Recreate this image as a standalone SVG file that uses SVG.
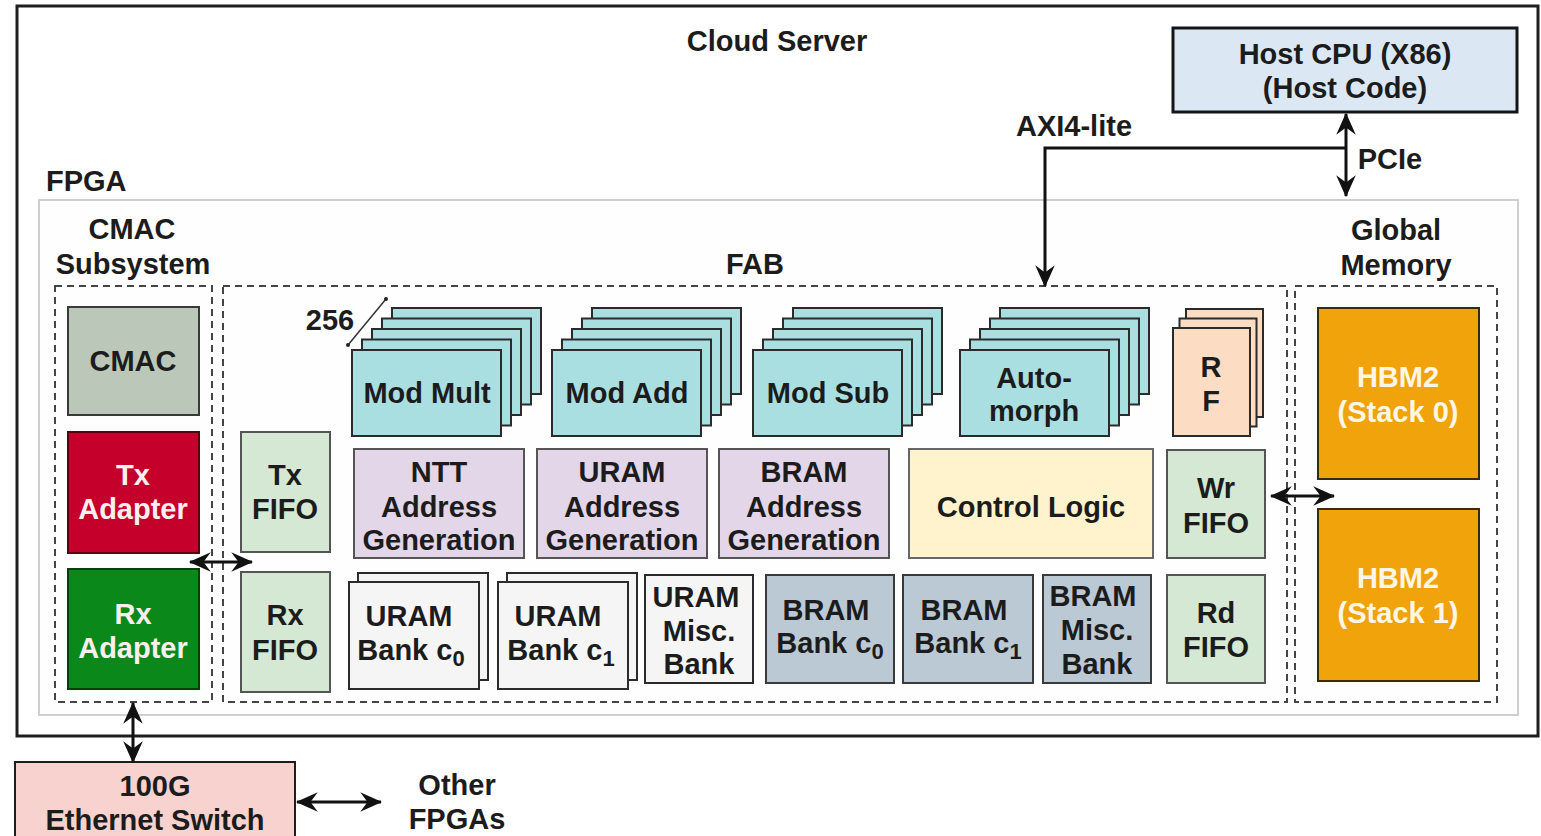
<svg xmlns="http://www.w3.org/2000/svg" width="1541" height="836" viewBox="0 0 1541 836">
  <defs>
    <marker id="arrow" viewBox="0 0 18 18" markerWidth="22" markerHeight="22" refX="17" refY="9" orient="auto-start-reverse" markerUnits="userSpaceOnUse">
      <path d="M0,1 L18,9 L0,17 L6,9 z" fill="#111"/>
    </marker>
  </defs>
  <style>
    text { font-family: "Liberation Sans", Arial, sans-serif; font-weight: bold; font-size: 29px; fill: #1c1c1c; text-anchor: middle; }
    .light { fill: #fbeff0; }
    .hbmtxt { fill: #fff6e6; }
    .start { text-anchor: start; }
    .sub { font-size: 22px; }
    .cloud { fill: #ffffff; stroke: #1e1e1e; stroke-width: 3; }
    .fpga { fill: #fefefe; stroke: #cfcfcf; stroke-width: 2; }
    .dash { fill: none; stroke: #444; stroke-width: 2; stroke-dasharray: 7 5; }
    .host { fill: #dbe8f4; stroke: #151515; stroke-width: 3; }
    .cmac { fill: #bac7b9; stroke: #3a3a3a; stroke-width: 2; }
    .tx { fill: #c5002a; stroke: #5a0010; stroke-width: 2; }
    .rx { fill: #0a891a; stroke: #04400a; stroke-width: 2; }
    .fifo { fill: #d5e8d4; stroke: #555; stroke-width: 2; }
    .mod { fill: #aadfe2; stroke: #2b2b2b; stroke-width: 2; }
    .rf { fill: #fddcc4; stroke: #2b2b2b; stroke-width: 2; }
    .addr { fill: #e2d6e8; stroke: #555; stroke-width: 2; }
    .ctrl { fill: #fff3cd; stroke: #666; stroke-width: 2; }
    .uram { fill: #f5f5f5; stroke: #2b2b2b; stroke-width: 2; }
    .bram { fill: #bbc9d4; stroke: #3a3a3a; stroke-width: 2; }
    .hbm { fill: #f0a30a; stroke: #3a2a05; stroke-width: 2; }
    .eth { fill: #f7d2ce; stroke: #1e1e1e; stroke-width: 2; }
    .wire { fill: none; stroke: #111; stroke-width: 3; }
  </style>

  <!-- outer server and FPGA frames -->
  <g id="cloud-server">
    <rect class="cloud" x="17" y="6" width="1521" height="730"/>
    <text x="777" y="51">Cloud Server</text>
  </g>
  <g id="fpga">
    <rect class="fpga" x="39" y="200" width="1479" height="515"/>
    <text class="start" x="46" y="191">FPGA</text>
  </g>

  <!-- dashed subsystem regions -->
  <g id="cmac-subsystem">
    <rect class="dash" x="55" y="286" width="157" height="416"/>
    <text x="132" y="239">CMAC</text>
    <text x="133" y="274">Subsystem</text>
  </g>
  <g id="fab">
    <rect class="dash" x="223" y="286" width="1064" height="416"/>
    <text x="755" y="274">FAB</text>
  </g>
  <g id="global-memory">
    <rect class="dash" x="1295" y="286" width="202" height="416"/>
    <text x="1396" y="240">Global</text>
    <text x="1396" y="275">Memory</text>
  </g>

  <g id="host-cpu">
    <rect class="host" x="1173" y="28" width="344" height="84"/>
    <text x="1345" y="64">Host CPU (X86)</text>
    <text x="1345" y="98">(Host Code)</text>
  </g>

  <!-- CMAC column -->
  <g id="cmac">
    <rect class="cmac" x="68" y="307" width="131" height="108"/>
    <text x="133" y="371">CMAC</text>
  </g>
  <g id="tx-adapter">
    <rect class="tx" x="68" y="432" width="131" height="121"/>
    <text class="light" x="133" y="485">Tx</text>
    <text class="light" x="133" y="519">Adapter</text>
  </g>
  <g id="rx-adapter">
    <rect class="rx" x="68" y="569" width="131" height="120"/>
    <text class="light" x="133" y="624">Rx</text>
    <text class="light" x="133" y="658">Adapter</text>
  </g>

  <!-- network FIFOs -->
  <g id="tx-fifo">
    <rect class="fifo" x="241" y="432" width="89" height="120"/>
    <text x="285" y="485">Tx</text>
    <text x="285" y="519">FIFO</text>
  </g>
  <g id="rx-fifo">
    <rect class="fifo" x="241" y="572" width="89" height="120"/>
    <text x="285" y="625">Rx</text>
    <text x="285" y="660">FIFO</text>
  </g>

  <!-- 256 lanes marker -->
  <g id="lanes-256">
    <text x="330" y="330">256</text>
    <line x1="348" y1="345" x2="386" y2="299" stroke="#333" stroke-width="1.5"/>
    <circle cx="348" cy="345" r="2" fill="#222"/>
    <circle cx="386" cy="299" r="2" fill="#222"/>
  </g>

  <!-- stacked functional units -->
  <g id="mod-mult">
    <rect class="mod" x="392" y="308" width="149" height="86"/>
    <rect class="mod" x="382" y="318.5" width="149" height="86"/>
    <rect class="mod" x="372" y="329" width="149" height="86"/>
    <rect class="mod" x="362" y="339.5" width="149" height="86"/>
    <rect class="mod" x="352" y="350" width="149" height="86"/>
    <text x="427" y="403">Mod Mult</text>
  </g>
  <g id="mod-add">
    <rect class="mod" x="592" y="308" width="149" height="86"/>
    <rect class="mod" x="582" y="318.5" width="149" height="86"/>
    <rect class="mod" x="572" y="329" width="149" height="86"/>
    <rect class="mod" x="562" y="339.5" width="149" height="86"/>
    <rect class="mod" x="552" y="350" width="149" height="86"/>
    <text x="627" y="403">Mod Add</text>
  </g>
  <g id="mod-sub">
    <rect class="mod" x="793" y="308" width="149" height="86"/>
    <rect class="mod" x="783" y="318.5" width="149" height="86"/>
    <rect class="mod" x="773" y="329" width="149" height="86"/>
    <rect class="mod" x="763" y="339.5" width="149" height="86"/>
    <rect class="mod" x="753" y="350" width="149" height="86"/>
    <text x="828" y="403">Mod Sub</text>
  </g>
  <g id="automorph">
    <rect class="mod" x="1000" y="308" width="149" height="86"/>
    <rect class="mod" x="990" y="318.5" width="149" height="86"/>
    <rect class="mod" x="980" y="329" width="149" height="86"/>
    <rect class="mod" x="970" y="339.5" width="149" height="86"/>
    <rect class="mod" x="960" y="350" width="149" height="86"/>
    <text x="1034" y="388">Auto-</text>
    <text x="1034" y="421">morph</text>
  </g>
  <g id="rf">
    <rect class="rf" x="1186" y="309" width="77" height="108"/>
    <rect class="rf" x="1179.5" y="318.5" width="77" height="108"/>
    <rect class="rf" x="1173" y="328" width="77" height="108"/>
    <text x="1211" y="377">R</text>
    <text x="1211" y="411">F</text>
  </g>

  <!-- address generation and control -->
  <g id="ntt-addr-gen">
    <rect class="addr" x="354" y="449" width="170" height="109"/>
    <text x="439" y="482">NTT</text>
    <text x="439" y="517">Address</text>
    <text x="439" y="550">Generation</text>
  </g>
  <g id="uram-addr-gen">
    <rect class="addr" x="537" y="449" width="170" height="109"/>
    <text x="622" y="482">URAM</text>
    <text x="622" y="517">Address</text>
    <text x="622" y="550">Generation</text>
  </g>
  <g id="bram-addr-gen">
    <rect class="addr" x="719" y="449" width="170" height="109"/>
    <text x="804" y="482">BRAM</text>
    <text x="804" y="517">Address</text>
    <text x="804" y="550">Generation</text>
  </g>
  <g id="control-logic">
    <rect class="ctrl" x="909" y="449" width="244" height="109"/>
    <text x="1031" y="517">Control Logic</text>
  </g>
  <g id="wr-fifo">
    <rect class="fifo" x="1167" y="450" width="98" height="108"/>
    <text x="1216" y="498">Wr</text>
    <text x="1216" y="533">FIFO</text>
  </g>

  <!-- on-chip memory banks -->
  <g id="uram-bank-c0">
    <rect class="uram" x="358" y="573" width="130" height="107"/>
    <rect class="uram" x="349" y="582" width="130" height="107"/>
    <text x="409" y="626">URAM</text>
    <text x="411" y="660">Bank c<tspan class="sub" dy="6">0</tspan></text>
  </g>
  <g id="uram-bank-c1">
    <rect class="uram" x="507" y="573" width="130" height="107"/>
    <rect class="uram" x="498" y="582" width="130" height="107"/>
    <text x="558" y="626">URAM</text>
    <text x="561" y="660">Bank c<tspan class="sub" dy="6">1</tspan></text>
  </g>
  <g id="uram-misc-bank">
    <rect class="uram" x="645" y="575" width="108" height="108"/>
    <text x="696" y="607">URAM</text>
    <text x="699" y="641">Misc.</text>
    <text x="699" y="674">Bank</text>
  </g>
  <g id="bram-bank-c0">
    <rect class="bram" x="766" y="575" width="128" height="108"/>
    <text x="826" y="620">BRAM</text>
    <text x="830" y="653">Bank c<tspan class="sub" dy="6">0</tspan></text>
  </g>
  <g id="bram-bank-c1">
    <rect class="bram" x="903" y="575" width="130" height="108"/>
    <text x="964" y="620">BRAM</text>
    <text x="968" y="653">Bank c<tspan class="sub" dy="6">1</tspan></text>
  </g>
  <g id="bram-misc-bank">
    <rect class="bram" x="1043" y="575" width="108" height="108"/>
    <text x="1093" y="606">BRAM</text>
    <text x="1097" y="640">Misc.</text>
    <text x="1097" y="674">Bank</text>
  </g>
  <g id="rd-fifo">
    <rect class="fifo" x="1167" y="575" width="98" height="108"/>
    <text x="1216" y="623">Rd</text>
    <text x="1216" y="657">FIFO</text>
  </g>

  <!-- HBM stacks -->
  <g id="hbm2-stack0">
    <rect class="hbm" x="1318" y="308" width="161" height="171"/>
    <text class="hbmtxt" x="1398" y="387">HBM2</text>
    <text class="hbmtxt" x="1398" y="422">(Stack 0)</text>
  </g>
  <g id="hbm2-stack1">
    <rect class="hbm" x="1318" y="509" width="161" height="172"/>
    <text class="hbmtxt" x="1398" y="588">HBM2</text>
    <text class="hbmtxt" x="1398" y="623">(Stack 1)</text>
  </g>

  <!-- external network -->
  <g id="ethernet-switch">
    <rect class="eth" x="15" y="762" width="280" height="90"/>
    <text x="155" y="796">100G</text>
    <text x="155" y="830">Ethernet Switch</text>
  </g>
  <g id="other-fpgas">
    <text x="457" y="795">Other</text>
    <text x="457" y="829">FPGAs</text>
  </g>

  <!-- connectors -->
  <g id="connectors">
    <line class="wire" x1="1346" y1="114" x2="1346" y2="196" marker-start="url(#arrow)" marker-end="url(#arrow)"/>
    <path class="wire" d="M1346,148 H1045 V286" marker-end="url(#arrow)"/>
    <text x="1074" y="136">AXI4-lite</text>
    <text x="1390" y="169">PCIe</text>
    <line class="wire" x1="190" y1="562" x2="252" y2="562" marker-start="url(#arrow)" marker-end="url(#arrow)"/>
    <line class="wire" x1="1271" y1="496" x2="1334" y2="496" marker-start="url(#arrow)" marker-end="url(#arrow)"/>
    <line class="wire" x1="133" y1="703" x2="133" y2="762" marker-start="url(#arrow)" marker-end="url(#arrow)"/>
    <line class="wire" x1="297" y1="802" x2="381" y2="802" marker-start="url(#arrow)" marker-end="url(#arrow)"/>
  </g>
</svg>
